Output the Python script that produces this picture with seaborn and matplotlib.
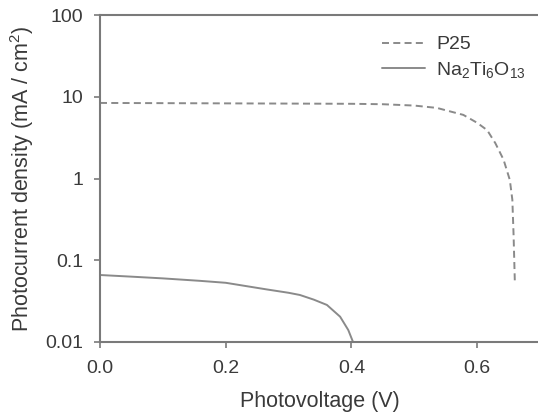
import numpy as np
import pandas as pd
import matplotlib
matplotlib.use("Agg")
import matplotlib.pyplot as plt
from matplotlib.ticker import FixedLocator, FixedFormatter, FormatStrFormatter
import seaborn as sns

# J-V curves (log scale current)
p25_v = [0, 0.1, 0.2, 0.3, 0.4, 0.45, 0.5, 0.536, 0.578, 0.6, 0.616, 0.629, 0.642, 0.652, 0.656, 0.658, 0.66]
p25_j = [8.4, 8.35, 8.3, 8.25, 8.2, 8.1, 7.8, 7.3, 6.0, 4.8, 3.9, 2.7, 1.7, 0.96, 0.55, 0.2, 0.053]

nto_v = [0, 0.05, 0.1, 0.159, 0.2, 0.265, 0.3, 0.318, 0.34, 0.361, 0.382, 0.395, 0.403]
nto_j = [0.066, 0.063, 0.060, 0.056, 0.053, 0.044, 0.040, 0.0376, 0.033, 0.0284, 0.0204, 0.014, 0.0098]

labels = ["P25", r"Na$_2$Ti$_6$O$_{13}$"]
y_ticks = [0.01, 0.1, 1, 10, 100]
y_tick_labels = ["0.01", "0.1", "1", "10", "100"]
x_ticks = [0.0, 0.2, 0.4, 0.6]

df = pd.concat([
    pd.DataFrame({"V": p25_v, "J": p25_j, "sample": labels[0]}),
    pd.DataFrame({"V": nto_v, "J": nto_j, "sample": labels[1]}),
], ignore_index=True)

sns.set_theme(style="white")
plt.rcParams["font.family"] = ["Liberation Sans", "DejaVu Sans"]
plt.rcParams["mathtext.fontset"] = "custom"
plt.rcParams["mathtext.rm"] = "Liberation Sans"
plt.rcParams["mathtext.default"] = "regular"

txt = "#3a3a3a"
grey = "#8a8a8a"

fig = plt.figure(figsize=(5.38, 4.17), dpi=100)
ax = fig.add_axes([100 / 538, 75 / 417, 440 / 538, 327 / 417])

sns.lineplot(data=df, x="V", y="J", hue="sample", style="sample",
             palette=[grey, grey], dashes=[(3.6, 2.2), ""], linewidth=1.4,
             sort=False, estimator=None, ax=ax)

ax.set_yscale("log")
ax.set_xlim(0, 0.7)
ax.set_ylim(0.01, 100)
ax.yaxis.set_major_locator(FixedLocator(y_ticks))
ax.yaxis.set_major_formatter(FixedFormatter(y_tick_labels))
ax.yaxis.set_minor_locator(FixedLocator([]))
ax.xaxis.set_major_locator(FixedLocator(x_ticks))
ax.xaxis.set_major_formatter(FormatStrFormatter("%.1f"))

for s in ax.spines.values():
    s.set_color("#7a7a7a")
    s.set_linewidth(1.5)
ax.tick_params(axis="both", which="major", direction="out", length=4, width=1.2,
               color="#7a7a7a", labelsize=14, labelcolor=txt,
               bottom=True, left=True)
ax.tick_params(axis="x", pad=9)
ax.tick_params(axis="y", pad=8)

ax.set_xlabel("Photovoltage (V)", fontsize=15.5, color=txt, labelpad=10)
ax.set_ylabel("Photocurrent density (mA / cm$^2$)", fontsize=15.5, color=txt, labelpad=7)

leg = ax.legend(loc="upper right", bbox_to_anchor=(1.008, 0.99), frameon=False,
                fontsize=14, handlelength=2.2, handletextpad=0.6, labelspacing=0.35,
                labelcolor=txt)

fig.savefig("out.png", dpi=100)
